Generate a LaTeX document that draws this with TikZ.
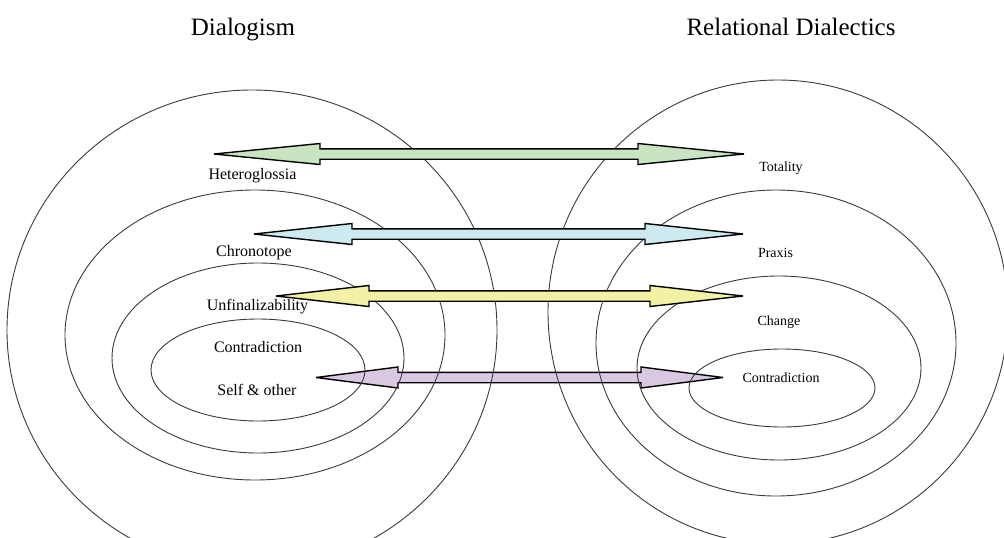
\documentclass[tikz,border=0pt]{standalone}
\usepackage{fontspec}
\setmainfont{Liberation Serif}

\definecolor{ringgray}{HTML}{3A3A3A}
\definecolor{arrgreen}{HTML}{C9E4C1}
\definecolor{arrblue}{HTML}{CDEAF0}
\definecolor{arryellow}{HTML}{F3F1A3}
\definecolor{arrpurple}{HTML}{D9C8E2}

% double-headed block arrow: fill, y, left tip x, right tip x, head length
\newcommand\blockarr[5]{%
  \filldraw[barrow, fill=#1]
    (#3,#2) -- (#3+#5,#2-10.5) -- (#3+#5,#2-5.2) -- (#4-#5,#2-5.2)
    -- (#4-#5,#2-10.5) -- (#4,#2) -- (#4-#5,#2+10.5) -- (#4-#5,#2+5.2)
    -- (#3+#5,#2+5.2) -- (#3+#5,#2+10.5) -- cycle;}

\tikzset{
  ring/.style={draw=ringgray, line width=0.9pt},
  barrow/.style={draw=black, line width=1.4pt, line join=miter, miter limit=4},
  title/.style={font=\fontsize{25}{29}\selectfont, anchor=base, inner sep=0pt},
  lbl/.style={font=\fontsize{16}{18}\selectfont, anchor=base, inner sep=0pt},
  rlbl/.style={font=\fontsize{14}{16}\selectfont, anchor=base, inner sep=0pt}
}

\begin{document}
\begin{tikzpicture}[x=1pt, y=-1pt]
  \useasboundingbox (0,0) rectangle (1004,538);

  % lowest link lies beneath the rings
  \blockarr{arrpurple}{377.5}{316}{723}{82}

  % Dialogism rings
  \draw[ring] (252,330) ellipse [x radius=245pt, y radius=240pt];
  \draw[ring] (255,335) ellipse [x radius=190pt, y radius=145pt];
  \draw[ring] (258,358) ellipse [x radius=146pt, y radius=95pt];
  \draw[ring] (258,370) ellipse [x radius=107pt, y radius=51pt];

  % Relational Dialectics rings
  \draw[ring] (778,312) ellipse [x radius=230pt, y radius=232pt];
  \draw[ring] (776,343) ellipse [x radius=180pt, y radius=153pt];
  \draw[ring] (779,368) ellipse [x radius=142pt, y radius=92pt];
  \draw[ring] (782,388) ellipse [x radius=93pt, y radius=39pt];

  % links between corresponding concepts
  \blockarr{arrgreen}{154}{214}{744}{106}
  \blockarr{arrblue}{234}{254}{743}{98}
  \blockarr{arryellow}{296}{276}{743}{93}

  % headings
  \node[title] (dialogism) at (243,35) {Dialogism};
  \node[title] (reldial) at (791,35) {Relational Dialectics};

  % Dialogism concepts
  \node[lbl] (hetero) at (252.5,179) {Heteroglossia};
  \node[lbl] (chrono) at (254,256) {Chronotope};
  \node[lbl] (unfin) at (257.5,310) {Unfinalizability};
  \node[lbl] (contrL) at (258,352) {Contradiction};
  \node[lbl] (self) at (257,395) {Self \& other};

  % Relational Dialectics concepts
  \node[rlbl] (total) at (781,171) {Totality};
  \node[rlbl] (praxis) at (775.5,257) {Praxis};
  \node[rlbl] (change) at (779,325) {Change};
  \node[rlbl] (contrR) at (781,382) {Contradiction};
\end{tikzpicture}
\end{document}
